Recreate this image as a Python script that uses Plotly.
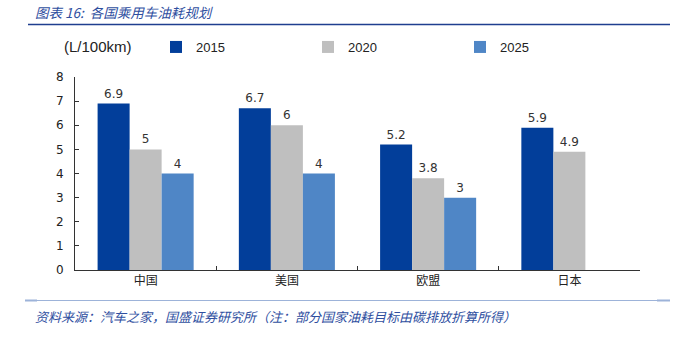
import plotly.graph_objects as go

categories = ["中国", "美国", "欧盟", "日本"]
series_names = ["2015", "2020", "2025"]
values_2015 = [6.9, 6.7, 5.2, 5.9]
values_2020 = [5, 6, 3.8, 4.9]
values_2025 = [4, 4, 3, None]
colors = ["#023E9A", "#BFBFBF", "#4F86C6"]
y_ticks = [0, 1, 2, 3, 4, 5, 6, 7, 8]

W, H = 674, 343
L, R, T, B = 75, 34, 77, 73
pw = W - L - R
ph = H - T - B

def px_x(p):
    return (p - L) / pw

def px_y(p):
    return (H - B - p) / ph

fig = go.Figure()
for name, vals, col in zip(series_names, [values_2015, values_2020, values_2025], colors):
    fig.add_trace(go.Bar(
        x=categories, y=vals, name=name, marker=dict(color=col, line=dict(width=0)),
        text=[("" if v is None else f"{v:g}") for v in vals],
        textposition="outside", cliponaxis=False,
        textfont=dict(family="DejaVu Sans", size=12, color="#333333"),
    ))

fig.update_layout(
    width=W, height=H,
    margin=dict(l=L, r=R, t=T, b=B, pad=0),
    paper_bgcolor="white", plot_bgcolor="white",
    barmode="group", bargap=0.32, bargroupgap=0,
    font=dict(family="DejaVu Sans", color="#222222"),
    showlegend=True,
    legend=dict(orientation="h", x=px_x(156), xanchor="left", y=px_y(47), yanchor="middle",
                entrywidth=107, entrywidthmode="pixels",
                font=dict(family="Liberation Sans", size=13, color="#222222"),
                bgcolor="rgba(0,0,0,0)", itemsizing="constant", traceorder="normal"),
    xaxis=dict(showline=True, linecolor="#333333", linewidth=1, ticks="inside", ticklen=4,
               tickson="boundaries", tickcolor="#333333",
               tickfont=dict(family="Noto Sans CJK SC", size=12, color="#222222"),
               showgrid=False, fixedrange=True, range=[-0.5, 3.5]),
    yaxis=dict(range=[0, 8], tickvals=y_ticks, showline=True, linecolor="#333333", linewidth=1,
               ticks="inside", ticklen=4, tickcolor="#333333", showgrid=False, zeroline=False,
               tickfont=dict(family="DejaVu Sans", size=12, color="#222222"), ticklabelstandoff=8),
)

# unit label
fig.add_annotation(text="(L/100km)", xref="paper", yref="paper", x=px_x(62), y=px_y(47),
                   xanchor="left", yanchor="middle", showarrow=False,
                   font=dict(family="Liberation Sans", size=15, color="#222222"))
# title
fig.add_annotation(text="<i>图表 16:  各国乘用车油耗规划</i>", xref="paper", yref="paper",
                   x=px_x(33), y=px_y(12), xanchor="left", yanchor="middle", showarrow=False,
                   font=dict(family="Noto Sans CJK SC", size=13.5, color="#2F4F9F"))
# source
fig.add_annotation(text="<i>资料来源：汽车之家，国盛证券研究所（注：部分国家油耗目标由碳排放折算所得）</i>",
                   xref="paper", yref="paper", x=px_x(33), y=px_y(316), xanchor="left",
                   yanchor="middle", showarrow=False,
                   font=dict(family="Noto Sans CJK SC", size=13, color="#2F4F9F"))
# header line
fig.add_shape(type="line", xref="paper", yref="paper", x0=px_x(28), x1=px_x(670),
              y0=px_y(24.5), y1=px_y(24.5), line=dict(color="#1F3F8F", width=1.5))
# footer line
fig.add_shape(type="line", xref="paper", yref="paper", x0=px_x(25), x1=px_x(670),
              y0=px_y(300.5), y1=px_y(300.5), line=dict(color="#9DB3D9", width=1))
fig.add_shape(type="line", xref="paper", yref="paper", x0=px_x(25), x1=px_x(37),
              y0=px_y(300.5), y1=px_y(300.5), line=dict(color="#9DB3D9", width=2))
fig.add_shape(type="line", xref="paper", yref="paper", x0=px_x(657), x1=px_x(670),
              y0=px_y(300.5), y1=px_y(300.5), line=dict(color="#9DB3D9", width=2))

fig.write_html("out.html")
